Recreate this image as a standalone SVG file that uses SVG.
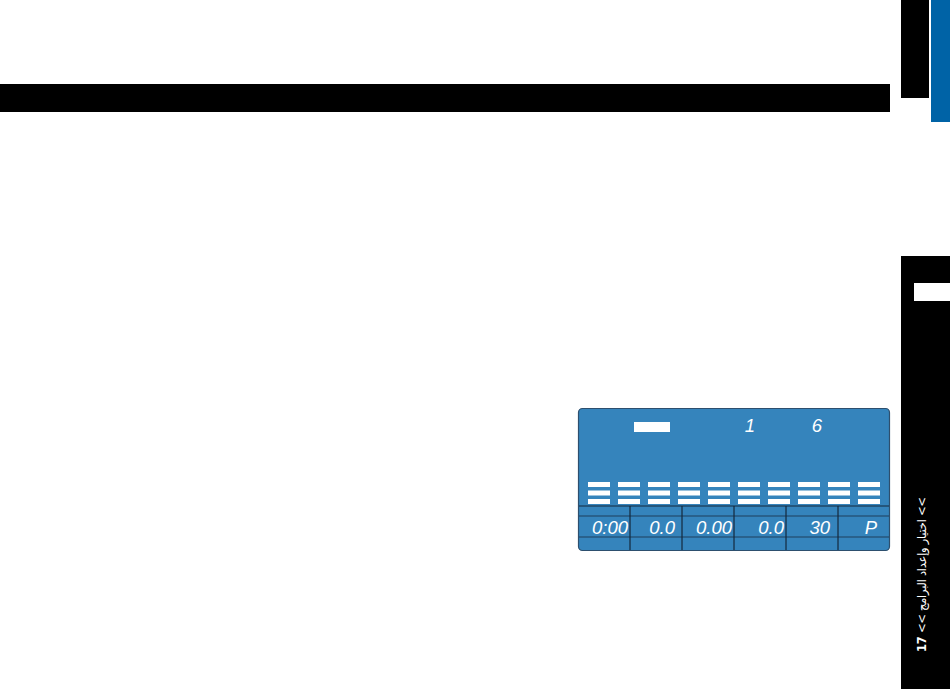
<svg xmlns="http://www.w3.org/2000/svg" width="950" height="689" viewBox="0 0 950 689">
<style>
.lcd{font-family:"Liberation Sans",Arial,sans-serif;font-style:italic;font-size:18.5px;fill:#ffffff;text-anchor:end}
.bar{fill:#ffffff}
.div{stroke:#14283c;stroke-width:1.2}
</style>
<defs>
<g id="col">
<rect x="0" y="0" width="22" height="5" class="bar"/>
<rect x="0" y="8.5" width="22" height="5" class="bar"/>
<rect x="0" y="17" width="22" height="5" class="bar"/>
</g>
</defs>
<rect width="950" height="689" fill="#ffffff"/>
<g id="header"><rect x="0" y="84" width="890" height="28" fill="#000000"/></g>
<g id="toptabs">
<rect x="901" y="0" width="28" height="98" fill="#000000"/>
<rect x="931" y="0" width="19" height="122" fill="#0063a6"/>
</g>
<g id="sidetab">
<rect x="901" y="256" width="49" height="433" fill="#000000"/>
<rect x="914" y="283" width="36" height="18" fill="#ffffff"/>
<text transform="translate(926,652) rotate(-90)" font-family="DejaVu Sans, sans-serif" font-size="11.5" fill="#ffffff" direction="ltr" textLength="155" lengthAdjust="spacing"><tspan font-weight="bold">17</tspan> &lt;&lt; اختيار وإعداد البرامج &lt;&lt;</text>
</g>
<g id="display">
<rect x="578.5" y="408.5" width="311" height="142" rx="4" fill="#3584bc" stroke="#2d4f6e" stroke-width="1.2"/>
<rect x="634" y="422" width="36" height="10" fill="#ffffff"/>
<text x="755" y="432" class="lcd">1</text>
<text x="822" y="432" class="lcd">6</text>
<use href="#col" x="588" y="482"/>
<use href="#col" x="618" y="482"/>
<use href="#col" x="648" y="482"/>
<use href="#col" x="678" y="482"/>
<use href="#col" x="708" y="482"/>
<use href="#col" x="738" y="482"/>
<use href="#col" x="768" y="482"/>
<use href="#col" x="798" y="482"/>
<use href="#col" x="828" y="482"/>
<use href="#col" x="858" y="482"/>
<line x1="579" y1="506" x2="889" y2="506" class="div"/>
<line x1="579" y1="516" x2="889" y2="516" stroke="#1e3e5c" stroke-width="1"/>
<line x1="579" y1="537" x2="889" y2="537" stroke="#1e3e5c" stroke-width="1"/>
<line x1="630" y1="506" x2="630" y2="550" class="div"/>
<line x1="682" y1="506" x2="682" y2="550" class="div"/>
<line x1="734" y1="506" x2="734" y2="550" class="div"/>
<line x1="786" y1="506" x2="786" y2="550" class="div"/>
<line x1="838" y1="506" x2="838" y2="550" class="div"/>
<text x="628" y="534" class="lcd">0:00</text>
<text x="675" y="534" class="lcd">0.0</text>
<text x="732" y="534" class="lcd">0.00</text>
<text x="784" y="534" class="lcd">0.0</text>
<text x="830" y="534" class="lcd">30</text>
<text x="877" y="534" class="lcd">P</text>
</g>
</svg>
